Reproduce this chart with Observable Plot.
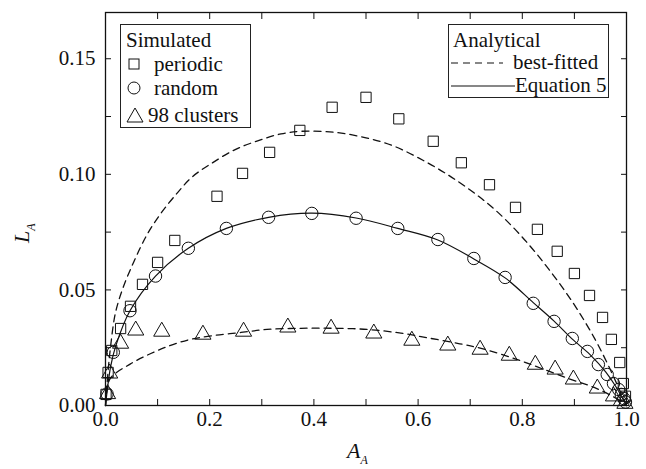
<!DOCTYPE html>
<html><head><meta charset="utf-8">
<script src="https://cdn.jsdelivr.net/npm/d3@7"></script>
<script src="https://cdn.jsdelivr.net/npm/@observablehq/plot@0.6"></script>
<style>
body{margin:0;background:#fff;}
#wrap{position:relative;width:646px;height:469px;font-family:'Liberation Serif',serif;color:#111;}
#wrap svg text{font-family:'Liberation Serif',serif !important;}
.lbl{position:absolute;font-family:'Liberation Serif',serif;font-style:italic;font-size:22px;line-height:1;white-space:nowrap;}
.lbl span{font-size:12px;vertical-align:-6px;}
.leg{position:absolute;font-family:'Liberation Serif',serif;border:1.3px solid #222;background:#fff;font-size:21px;box-sizing:border-box;white-space:nowrap;}
.row{position:absolute;left:0;height:24px;line-height:24px;}
.row svg{position:absolute;top:0;}
.row .t{position:absolute;top:0;}
</style></head><body>
<div id="wrap"></div>
<script>
// Simulated data
const periodicX = [0.001,0.005,0.012,0.029,0.048,0.071,0.100,0.133,0.214,0.263,0.315,0.373,0.435,0.500,0.563,0.629,0.683,0.737,0.787,0.829,0.867,0.900,0.929,0.954,0.971,0.987,0.994,0.998];
const periodicY = [0.0048,0.0143,0.0238,0.0333,0.0429,0.0524,0.0619,0.0714,0.0905,0.1004,0.1095,0.1190,0.1290,0.1333,0.1240,0.1143,0.1050,0.0955,0.0857,0.0762,0.0667,0.0571,0.0476,0.0381,0.0286,0.0186,0.0095,0.0040];
const randomX = [0.003,0.015,0.047,0.096,0.159,0.232,0.313,0.396,0.481,0.561,0.638,0.707,0.767,0.821,0.861,0.896,0.925,0.946,0.963,0.975,0.985,0.990,0.995,0.998];
const randomY = [0.0050,0.0230,0.0410,0.0560,0.0680,0.0766,0.0814,0.0831,0.0810,0.0766,0.0718,0.0636,0.0554,0.0442,0.0364,0.0290,0.0234,0.0177,0.0134,0.0095,0.0069,0.0048,0.0030,0.0015];
const clustersX = [0.004,0.008,0.029,0.058,0.108,0.187,0.265,0.350,0.433,0.515,0.588,0.657,0.719,0.775,0.825,0.863,0.898,0.944,0.975,0.990,0.997];
const clustersY = [0.0050,0.0139,0.0268,0.0325,0.0320,0.0307,0.0320,0.0338,0.0333,0.0312,0.0281,0.0260,0.0242,0.0216,0.0177,0.0156,0.0113,0.0074,0.0040,0.0020,0.0008];
// Analytical curves
const fitUpperX = [0,0.005,0.010,0.019,0.033,0.054,0.080,0.106,0.138,0.167,0.202,0.247,0.292,0.337,0.375,0.439,0.500,0.550,0.600,0.650,0.700,0.750,0.800,0.850,0.900,0.940,0.970,0.990,1.0];
const fitUpperY = [0,0.0150,0.0260,0.0400,0.0505,0.0620,0.0740,0.0830,0.0920,0.0990,0.1045,0.1105,0.1145,0.1175,0.1186,0.1182,0.1158,0.1125,0.1072,0.1008,0.0932,0.0842,0.0728,0.0592,0.0435,0.0285,0.0150,0.0050,0];
const fitLowerX = [0,0.003,0.010,0.048,0.087,0.125,0.163,0.208,0.260,0.310,0.375,0.440,0.503,0.567,0.620,0.680,0.721,0.785,0.837,0.888,0.938,0.977,1.0];
const fitLowerY = [0,0.0070,0.0120,0.0180,0.0225,0.0260,0.0286,0.0303,0.0316,0.0329,0.0334,0.0334,0.0329,0.0313,0.0292,0.0267,0.0247,0.0203,0.0160,0.0117,0.0078,0.0035,0];
const eq5X = [0,0.003,0.010,0.020,0.047,0.096,0.159,0.232,0.313,0.396,0.481,0.561,0.638,0.707,0.767,0.821,0.861,0.896,0.930,0.960,0.980,1.0];
const eq5Y = [0,0.0060,0.0170,0.0260,0.0410,0.0560,0.0680,0.0766,0.0814,0.0832,0.0811,0.0766,0.0716,0.0634,0.0552,0.0445,0.0365,0.0287,0.0220,0.0145,0.0080,0];
// Ticks
const xMajor = [0,0.2,0.4,0.6,0.8,1.0];
const xAll = [0,0.1,0.2,0.3,0.4,0.5,0.6,0.7,0.8,0.9,1.0];
const yMajor = [0,0.05,0.10,0.15];
const yAll = [0,0.025,0.05,0.075,0.10,0.125,0.15];
// Legend texts
const simTitle = "Simulated";
const simLabels = ["periodic", "random", "98 clusters"];
const anTitle = "Analytical";
const anLabels = ["best-fitted", "Equation 5"];

const zip = (xs, ys) => xs.map((x, i) => ({x, y: ys[i]}));
const periodic = zip(periodicX, periodicY);
const random = zip(randomX, randomY);
const clusters = zip(clustersX, clustersY);
const upper = zip(fitUpperX, fitUpperY);
const lower = zip(fitLowerX, fitLowerY);
const eq5 = zip(eq5X, eq5Y);

const ink = "#111";
const chart = Plot.plot({
  width: 646, height: 469,
  marginLeft: 105, marginRight: 20, marginTop: 12, marginBottom: 64,
  style: {fontFamily: "Liberation Serif", fontSize: "21px", color: ink, background: "#fff"},
  x: {domain: [0, 1], label: null},
  y: {domain: [0, 0.17], label: null},
  marks: [
    Plot.line(upper, {x: "x", y: "y", curve: "catmull-rom", stroke: ink, strokeWidth: 1.3, strokeDasharray: "7,5"}),
    Plot.line(lower, {x: "x", y: "y", curve: "catmull-rom", stroke: ink, strokeWidth: 1.3, strokeDasharray: "7,5"}),
    Plot.line(eq5, {x: "x", y: "y", curve: "catmull-rom", stroke: ink, strokeWidth: 1.2}),
    Plot.dot(periodic, {x: "x", y: "y", symbol: "square", r: 5.8, stroke: ink, strokeWidth: 1, fill: "none"}),
    Plot.dot(random, {x: "x", y: "y", symbol: "circle", r: 6.2, stroke: ink, strokeWidth: 1, fill: "none"}),
    Plot.dot(clusters, {x: "x", y: "y", symbol: "triangle", r: 6, stroke: ink, strokeWidth: 1, fill: "none"}),
    Plot.axisX(xAll, {anchor: "bottom", tickSize: -6, text: null, label: null, stroke: ink}),
    Plot.axisX(xAll, {anchor: "top", tickSize: -6, text: null, label: null, stroke: ink}),
    Plot.axisX(xMajor, {anchor: "bottom", tickSize: 0, tickPadding: 6, tickFormat: d3.format(".1f"), label: null, fontSize: 21, fill: ink}),
    Plot.axisY(yAll, {anchor: "left", tickSize: -6, text: null, label: null, stroke: ink}),
    Plot.axisY(yAll, {anchor: "right", tickSize: -6, text: null, label: null, stroke: ink}),
    Plot.axisY(yMajor, {anchor: "left", tickSize: 0, tickPadding: 10, tickFormat: d3.format(".2f"), label: null, fontSize: 21, fill: ink}),
    Plot.frame({stroke: ink, strokeWidth: 1.3})
  ]
});
const wrap = document.getElementById("wrap");
wrap.appendChild(chart);

const sq = `<svg width="20" height="24" style="left:5px"><rect x="3" y="7" width="10" height="10" fill="none" stroke="${ink}"/></svg>`;
const ci = `<svg width="20" height="24" style="left:5px"><circle cx="8" cy="12" r="6" fill="none" stroke="${ink}"/></svg>`;
const tr = `<svg width="22" height="24" style="left:4px"><path d="M2,19 L10,5 L18,19 Z" fill="none" stroke="${ink}"/></svg>`;
const da = `<svg width="62" height="24" style="left:2px"><line x1="0" y1="13" x2="52" y2="13" stroke="${ink}" stroke-width="1.2" stroke-dasharray="7,5"/></svg>`;
const so = `<svg width="64" height="24" style="left:2px"><line x1="0" y1="13" x2="64" y2="13" stroke="${ink}" stroke-width="1.2"/></svg>`;

function legend(left, top, width, height, rows) {
  const box = document.createElement("div");
  box.className = "leg";
  Object.assign(box.style, {left: left + "px", top: top + "px", width: width + "px", height: height + "px"});
  box.innerHTML = rows.map(r => `<div class="row" style="top:${r.top}px">${r.sym || ""}<span class="t" style="left:${r.tx}px">${r.text}</span></div>`).join("");
  wrap.appendChild(box);
}
legend(120, 24, 131, 104, [
  {top: 3, tx: 5, text: simTitle},
  {top: 27, tx: 33, text: simLabels[0], sym: sq},
  {top: 51, tx: 33, text: simLabels[1], sym: ci},
  {top: 78, tx: 27, text: simLabels[2], sym: tr}
]);
legend(448, 24, 161, 74, [
  {top: 3, tx: 4, text: anTitle},
  {top: 25, tx: 64, text: anLabels[0], sym: da},
  {top: 48, tx: 66, text: anLabels[1], sym: so}
]);

const xl = document.createElement("div");
xl.className = "lbl";
xl.innerHTML = "A<span>A</span>";
Object.assign(xl.style, {left: "347px", top: "440px"});
wrap.appendChild(xl);

const yl = document.createElement("div");
yl.className = "lbl";
yl.innerHTML = "L<span>A</span>";
Object.assign(yl.style, {left: "11px", top: "243px", transformOrigin: "0 0", transform: "rotate(-90deg)"});
wrap.appendChild(yl);
</script>
</body></html>
